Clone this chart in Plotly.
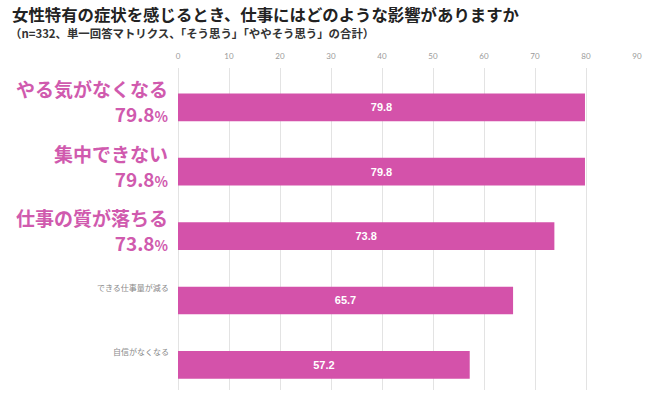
import plotly.graph_objects as go

categories = ["やる気がなくなる", "集中できない", "仕事の質が落ちる", "できる仕事量が減る", "自信がなくなる"]
values = [79.8, 79.8, 73.8, 65.7, 57.2]
highlight = [True, True, True, False, False]
x_ticks = [0, 10, 20, 30, 40, 50, 60, 70, 80, 90]

title = "女性特有の症状を感じるとき、仕事にはどのような影響がありますか"
subtitle = "（n=332、単一回答マトリクス、「そう思う」「ややそう思う」の合計）"

PINK = "#D452AA"
LABEL_PINK = "#D05AAE"
FONT = "Noto Sans CJK JP"

W, H = 650, 401
ML, MR, MT, MB = 178, 13, 68, 11
pw, ph = W - ML - MR, H - MT - MB

fig = go.Figure()
fig.add_trace(go.Bar(
    y=list(range(len(categories))),
    x=values,
    orientation="h",
    marker=dict(color=PINK, line=dict(width=0)),
    text=[f"{v:.1f}" for v in values],
    textposition="inside",
    insidetextanchor="middle",
    textfont=dict(color="white", size=11, family="Liberation Sans", weight="bold"),
    width=0.43,
    hoverinfo="skip",
))

annotations = []
for i, (cat, v, hl) in enumerate(zip(categories, values, highlight)):
    if hl:
        annotations.append(dict(
            x=0, xref="paper", xanchor="right", xshift=-7,
            y=i, yref="y", yanchor="middle", yshift=6,
            text=f"{cat}<br>{v:.1f}<span style='font-size:14px'>%</span>",
            showarrow=False, align="right",
            font=dict(size=19, color=LABEL_PINK, family=FONT, weight="bold"),
        ))
    else:
        annotations.append(dict(
            x=0, xref="paper", xanchor="right", xshift=-7,
            y=i, yref="y", yanchor="middle", yshift=13,
            text=cat, showarrow=False, align="right",
            font=dict(size=8, color="#8a8a8a", family=FONT),
        ))

annotations.append(dict(
    x=(10 - ML) / pw, xref="paper", xanchor="left",
    y=1 - (14 - MT) / ph, yref="paper", yanchor="middle",
    text=f"<b>{title}</b>", showarrow=False,
    font=dict(size=16.4, color="#222222", family=FONT),
))
annotations.append(dict(
    x=(8 - ML) / pw, xref="paper", xanchor="left",
    y=1 - (33 - MT) / ph, yref="paper", yanchor="middle",
    text=f"<b>{subtitle}</b>", showarrow=False,
    font=dict(size=11.4, color="#333333", family=FONT),
))

fig.update_layout(
    width=W, height=H,
    margin=dict(l=ML, r=MR, t=MT, b=MB),
    paper_bgcolor="white", plot_bgcolor="white",
    showlegend=False,
    font=dict(family=FONT),
    annotations=annotations,
    xaxis=dict(
        range=[0, 90], side="top", tickvals=x_ticks,
        tickfont=dict(size=8, color="#9a9a9a", family="Lato"),
        showgrid=True, gridcolor="#e3e3e3", gridwidth=1,
        zeroline=True, zerolinecolor="#e3e3e3", zerolinewidth=1,
        showline=False, ticks="", ticklabelstandoff=6,
        fixedrange=True, automargin=False,
    ),
    yaxis=dict(
        range=[4.39, -0.61], showticklabels=False, showgrid=False,
        zeroline=False, showline=False, fixedrange=True, automargin=False,
    ),
)

fig.write_html(
    "out.html",
    config={"displayModeBar": False},
    post_script="document.body.style.margin='0';document.body.style.overflow='hidden';",
)
